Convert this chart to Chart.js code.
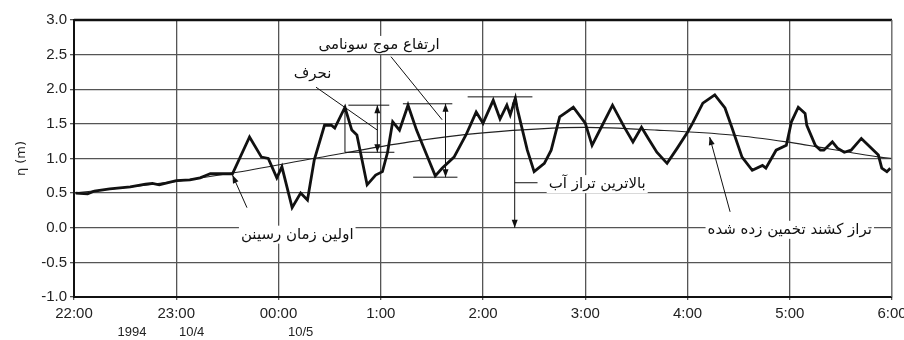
<!DOCTYPE html>
<html>
<head>
<meta charset="utf-8">
<script src="https://cdn.jsdelivr.net/npm/chart.js@4"></script>
<style>
	html, body { margin: 0; padding: 0; background: #fff; }
	#box { width: 904px; height: 340px; position: relative; }
</style>
</head>
<body>
<div id="box"><canvas id="chart"></canvas></div>
<script>
// minutes after 22:00 on 10/4
const hourLabels = ["22:00", "23:00", "00:00", "1:00", "2:00", "3:00", "4:00", "5:00", "6:00"];
const dateTexts = ["1994", "10/4", "10/5"];
const dateMinutes = [34, 69, 133];

const obsMinutes = [1, 8, 12, 21, 33, 42, 46, 50, 60, 68, 74, 77, 80, 93, 103, 110, 114, 119, 122, 128,
	133, 137, 141, 147, 151, 153, 159, 163, 166, 172, 177, 181, 184, 187, 191, 196, 201, 205, 212, 216,
	223, 230, 236, 240, 246, 250, 254, 256, 259, 260, 266, 270, 276, 280, 285, 289, 293, 300, 304, 310,
	316, 323, 328, 333, 337, 342, 348, 354, 360, 363, 369, 376, 382, 386, 392, 398, 404, 406, 412, 418,
	421, 425, 429, 430, 435, 438, 440, 445, 448, 452, 456, 462, 467, 472, 474, 477, 479];
const obsValues = [0.50, 0.49, 0.53, 0.56, 0.59, 0.63, 0.64, 0.62, 0.68, 0.69, 0.72, 0.75, 0.78, 0.78, 1.31, 1.02, 1.00, 0.72, 0.88, 0.29,
	0.50, 0.40, 0.98, 1.48, 1.48, 1.44, 1.74, 1.41, 1.34, 0.62, 0.76, 0.81, 1.09, 1.53, 1.41, 1.77, 1.41, 1.17, 0.75, 0.86,
	1.02, 1.34, 1.67, 1.51, 1.84, 1.57, 1.77, 1.63, 1.87, 1.73, 1.12, 0.81, 0.93, 1.12, 1.60, 1.67, 1.74, 1.51, 1.19, 1.48,
	1.77, 1.45, 1.24, 1.45, 1.29, 1.09, 0.93, 1.15, 1.38, 1.51, 1.80, 1.92, 1.73, 1.45, 1.02, 0.83, 0.90, 0.86, 1.12, 1.19,
	1.53, 1.74, 1.65, 1.48, 1.19, 1.12, 1.12, 1.24, 1.15, 1.09, 1.12, 1.29, 1.17, 1.05, 0.86, 0.81, 0.86];

const tideMinutes = [0, 60, 93, 143, 197, 240, 300, 342, 386, 418, 473, 480];
const tideValues = [0.50, 0.67, 0.79, 1.01, 1.24, 1.37, 1.45, 1.41, 1.34, 1.24, 1.02, 1.00];

// annotation texts and where they sit (data units: minutes, metres)
const noteTexts = ["ارتفاع موج سونامی", "نحرف", "بالاترین تراز آب", "اولین زمان رسینن", "تراز کشند تخمین زده شده"];
const noteMinutes = [179, 140, 307, 131, 420];
const noteValues = [2.64, 2.22, 0.63, -0.10, -0.03];

// plain segments [m1, v1, m2, v2]
const segments = [
	[193, 1.79, 222, 1.79], [199, 0.73, 225, 0.73],
	[161, 1.77, 185, 1.77], [159, 1.09, 188, 1.09], [159, 1.74, 159, 1.09],
	[231, 1.89, 269, 1.89], [258.6, 0.65, 272, 0.65],
	[186, 2.47, 216, 1.56], [142, 2.03, 178, 1.41]
];
// arrows [m1, v1, m2, v2, head at start too]
const arrows = [
	[218, 0.73, 218, 1.79, true],
	[178, 1.09, 178, 1.77, true],
	[258.6, 0.0, 258.6, 1.89, true],
	[101.5, 0.29, 93, 0.76, false],
	[385, 0.23, 373, 1.31, false]
];

function toPoints(xs, ys) {
	return xs.map((x, i) => ({ x: x, y: ys[i] }));
}

function drawHead(ctx, x1, y1, x2, y2) {
	const angle = Math.atan2(y2 - y1, x2 - x1);
	const len = 8;
	const wide = 3;
	ctx.beginPath();
	ctx.moveTo(x2, y2);
	ctx.lineTo(x2 - len * Math.cos(angle) + wide * Math.sin(angle), y2 - len * Math.sin(angle) - wide * Math.cos(angle));
	ctx.lineTo(x2 - len * Math.cos(angle) - wide * Math.sin(angle), y2 - len * Math.sin(angle) + wide * Math.cos(angle));
	ctx.closePath();
	ctx.fill();
}

const notesPlugin = {
	id: "notes",
	afterDatasetsDraw(chart) {
		const ctx = chart.ctx;
		const xs = chart.scales.x;
		const ys = chart.scales.y;
		const area = chart.chartArea;
		ctx.save();
		// frame top and right
		ctx.strokeStyle = "#111";
		ctx.lineWidth = 2.5;
		ctx.beginPath();
		ctx.moveTo(area.left, area.top);
		ctx.lineTo(area.right, area.top);
		ctx.stroke();
		ctx.strokeStyle = "#999";
		ctx.lineWidth = 1;
		ctx.beginPath();
		ctx.moveTo(area.right, area.top);
		ctx.lineTo(area.right, area.bottom);
		ctx.stroke();

		ctx.strokeStyle = "#111";
		ctx.fillStyle = "#111";
		ctx.lineWidth = 1;
		segments.forEach(s => {
			ctx.beginPath();
			ctx.moveTo(xs.getPixelForValue(s[0]), ys.getPixelForValue(s[1]));
			ctx.lineTo(xs.getPixelForValue(s[2]), ys.getPixelForValue(s[3]));
			ctx.stroke();
		});
		arrows.forEach(a => {
			const x1 = xs.getPixelForValue(a[0]);
			const y1 = ys.getPixelForValue(a[1]);
			const x2 = xs.getPixelForValue(a[2]);
			const y2 = ys.getPixelForValue(a[3]);
			ctx.beginPath();
			ctx.moveTo(x1, y1);
			ctx.lineTo(x2, y2);
			ctx.stroke();
			drawHead(ctx, x1, y1, x2, y2);
			if (a[4]) {
				drawHead(ctx, x2, y2, x1, y1);
			}
		});

		ctx.font = "15px 'DejaVu Sans'";
		ctx.textAlign = "center";
		ctx.textBaseline = "middle";
		noteTexts.forEach((t, i) => {
			const x = xs.getPixelForValue(noteMinutes[i]);
			const y = ys.getPixelForValue(noteValues[i]);
			const w = ctx.measureText(t).width;
			ctx.fillStyle = "#fff";
			ctx.fillRect(x - w / 2 - 2, y - 9, w + 4, 18);
			ctx.fillStyle = "#111";
			ctx.fillText(t, x, y);
		});

		ctx.font = "13px 'Liberation Sans'";
		ctx.fillStyle = "#222";
		dateTexts.forEach((t, i) => {
			ctx.fillText(t, xs.getPixelForValue(dateMinutes[i]), 332);
		});
		ctx.restore();
	}
};

const context = document.getElementById("chart").getContext("2d");
new Chart(context, {
	type: "line",
	data: {
		datasets: [
			{
				label: "observed",
				data: toPoints(obsMinutes, obsValues),
				borderColor: "#111",
				borderWidth: 2.8,
				pointRadius: 0,
				tension: 0,
				borderJoinStyle: "miter"
			},
			{
				label: "tide",
				data: toPoints(tideMinutes, tideValues),
				borderColor: "#222",
				borderWidth: 1.1,
				pointRadius: 0,
				cubicInterpolationMode: "monotone"
			}
		]
	},
	options: {
		responsive: true,
		maintainAspectRatio: false,
		animation: false,
		layout: {
			padding: { top: 20, right: 12, left: 0, bottom: 0 }
		},
		plugins: {
			legend: { display: false },
			tooltip: { enabled: false }
		},
		scales: {
			x: {
				type: "linear",
				min: 0,
				max: 480,
				afterFit: scale => {
					scale.height = 43;
					scale.paddingRight = 12;
				},
				ticks: {
					stepSize: 60,
					autoSkip: false,
					maxRotation: 0,
					padding: 5,
					color: "#222",
					font: { family: "'Liberation Sans'", size: 15 },
					callback: value => hourLabels[Math.round(value / 60)]
				},
				grid: { color: "#555", lineWidth: 1.3, tickLength: 3 },
				border: { color: "#111", width: 2 }
			},
			y: {
				min: -1,
				max: 3,
				afterFit: scale => { scale.width = 74; },
				ticks: {
					stepSize: 0.5,
					padding: 3,
					color: "#222",
					font: { family: "'Liberation Sans'", size: 15 },
					callback: value => value.toFixed(1)
				},
				title: {
					display: true,
					text: "η (m)",
					color: "#222",
					padding: { top: 14, bottom: 0 },
					font: { family: "'DejaVu Sans'", size: 13 }
				},
				grid: { color: "#555", lineWidth: 1.3, tickLength: 4 },
				border: { color: "#111", width: 2 }
			}
		}
	},
	plugins: [notesPlugin]
});
</script>
</body>
</html>
